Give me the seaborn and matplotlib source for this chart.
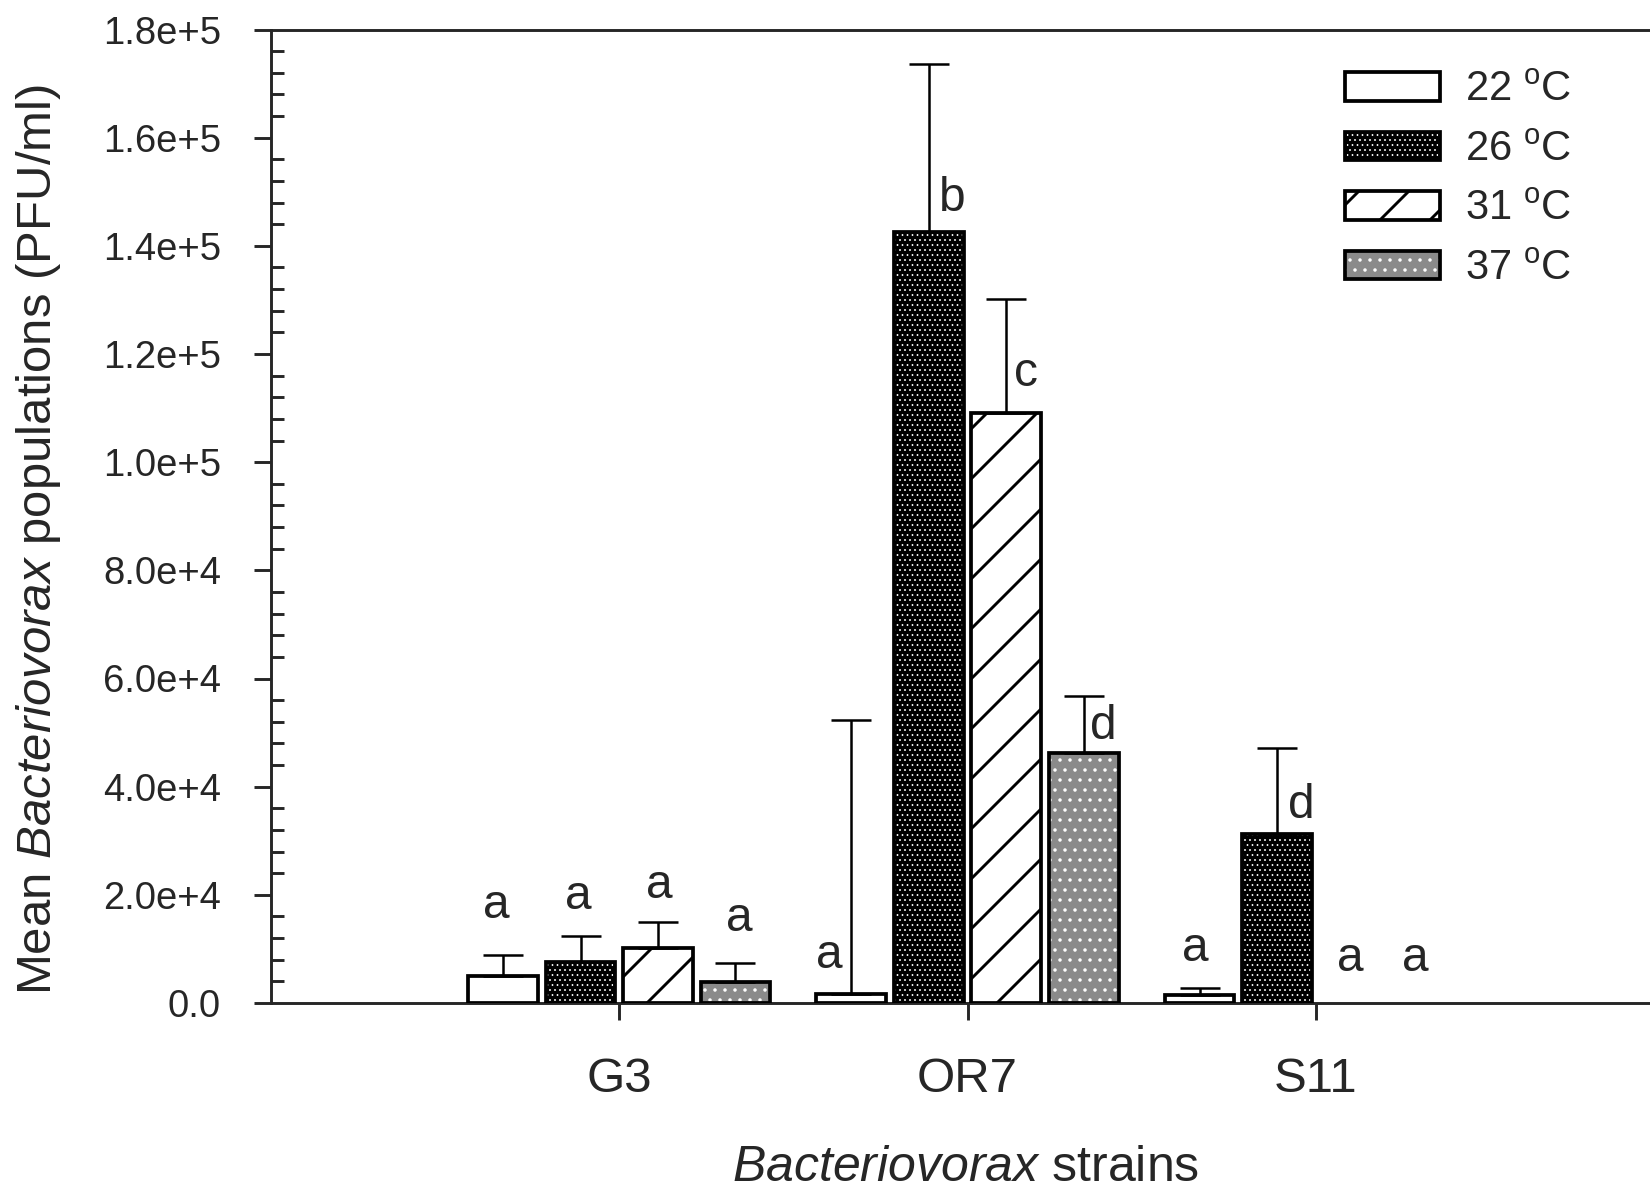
"""
Bacteriovorax strain populations at four temperatures (bar chart with hatches)
"""
import numpy as np
import pandas as pd
import matplotlib
matplotlib.use('Agg')
import matplotlib.pyplot as plt
import seaborn as sns
from matplotlib.patches import Rectangle, Patch
from matplotlib.legend_handler import HandlerTuple
from matplotlib.ticker import MultipleLocator, FixedLocator, FixedFormatter

# Categories
STRAINS = ['G3', 'OR7', 'S11']
TEMPS = ['22 $^{\\rm o}$C', '26 $^{\\rm o}$C', '31 $^{\\rm o}$C', '37 $^{\\rm o}$C']

# Mean PFU/ml per strain (G3, OR7, S11)
mean_22 = [5000, 1750, 1450]
mean_26 = [7600, 142600, 31300]
mean_31 = [10100, 109000, 0]
mean_37 = [3900, 46300, 0]

# Upper error (SD) per strain
err_22 = [3800, 50550, 1350]
err_26 = [4850, 31000, 15800]
err_31 = [4900, 21200, np.nan]
err_37 = [3500, 10500, np.nan]

# Significance letters, their baseline heights and x shift from bar centre
letters_22 = ['a', 'a', 'a']
letters_26 = ['a', 'b', 'd']
letters_31 = ['a', 'c', 'a']
letters_37 = ['a', 'd', 'a']
letter_y_22 = [15760, 6420, 7780]
letter_y_26 = [17320, 146500, 34250]
letter_y_31 = [19460, 114000, 5840]
letter_y_37 = [13230, 48840, 5840]
letter_dx_22 = [-0.02, -0.064, -0.012]
letter_dx_26 = [-0.006, 0.066, 0.07]
letter_dx_31 = [0.003, 0.057, -0.012]
letter_dx_37 = [0.012, 0.057, -0.048]

# Y tick labels
YTICKS = [0, 20000, 40000, 60000, 80000, 100000, 120000, 140000, 160000, 180000]
YTICK_LABELS = ['0.0', '2.0e+4', '4.0e+4', '6.0e+4', '8.0e+4', '1.0e+5',
                '1.2e+5', '1.4e+5', '1.6e+5', '1.8e+5']

# Fill styles per temperature: face, hatch colour, hatch, hatch line width
FACES = ['white', 'black', 'white', '#8a8a8a']
HATCH_COLORS = ['black', 'white', 'black', 'white']
HATCHES = ['', '.' * 10, '//', '.....']
HATCH_LWS = [0.7, 0.2, 0.7, 0.35]

means = [mean_22, mean_26, mean_31, mean_37]
errs = [err_22, err_26, err_31, err_37]
letters = [letters_22, letters_26, letters_31, letters_37]
letter_ys = [letter_y_22, letter_y_26, letter_y_31, letter_y_37]
letter_dxs = [letter_dx_22, letter_dx_26, letter_dx_31, letter_dx_37]

rows = []
for t, m in zip(TEMPS, means):
    for s, v in zip(STRAINS, m):
        rows.append({'strain': s, 'temp': t, 'mean': v})
df = pd.DataFrame(rows)

sns.set_style('ticks')
plt.rcParams['font.family'] = ['Liberation Sans', 'DejaVu Sans']
plt.rcParams['mathtext.fontset'] = 'custom'
plt.rcParams['mathtext.rm'] = 'Liberation Sans'
plt.rcParams['mathtext.it'] = 'Liberation Sans:italic'
plt.rcParams['hatch.linewidth'] = 0.7

EDGE_LW = 0.9


def style_fill(p, i):
    p.set_facecolor(FACES[i])
    p.set_edgecolor(HATCH_COLORS[i])
    p.set_hatch(HATCHES[i])
    p.set_linewidth(0)
    if hasattr(p, 'set_hatch_linewidth'):
        p.set_hatch_linewidth(HATCH_LWS[i])


fig = plt.figure(figsize=(5.5, 1189 / 300), dpi=300)
ax = fig.add_axes([271 / 1650, 186 / 1189, 1393 / 1650, 973.5 / 1189])

sns.barplot(data=df, x='strain', y='mean', hue='temp', order=STRAINS,
            hue_order=TEMPS, palette=FACES, width=0.89, gap=0.1,
            errorbar=None, legend=False, ax=ax)

# restyle bars: hatch colour comes from edgecolor, so outline is drawn separately
bar_conts = list(ax.containers)
for i, cont in enumerate(bar_conts):
    xs, tops = [], []
    for j, p in enumerate(cont.patches):
        h = p.get_height()
        xc = p.get_x() + p.get_width() / 2
        xs.append(xc)
        tops.append(h)
        if h <= 0:
            p.set_visible(False)
        else:
            style_fill(p, i)
            ax.add_patch(Rectangle(p.get_xy(), p.get_width(), h, fill=False,
                                   edgecolor='black', linewidth=EDGE_LW, zorder=3))
        ax.text(xc + letter_dxs[i][j], letter_ys[i][j], letters[i][j],
                ha='center', va='baseline', fontsize=11.5, zorder=5)
    e = np.array(errs[i], dtype=float)
    ok = ~np.isnan(e)
    ax.errorbar(np.array(xs)[ok], np.array(tops)[ok],
                yerr=[np.zeros(ok.sum()), e[ok]], fmt='none', ecolor='black',
                elinewidth=0.6, capsize=4.8, capthick=0.6, zorder=2)

ax.set_xlim(-1, 3)
ax.set_ylim(0, 180000)
ax.yaxis.set_major_locator(FixedLocator(YTICKS))
ax.yaxis.set_major_formatter(FixedFormatter(YTICK_LABELS))
ax.yaxis.set_minor_locator(MultipleLocator(4000))
ax.tick_params(axis='y', which='major', direction='out', length=4, width=0.7,
               labelsize=9.2, pad=8)
ax.tick_params(axis='y', which='minor', direction='in', length=3, width=0.7)
ax.tick_params(axis='x', which='major', direction='out', length=4, width=0.7,
               labelsize=11.8, pad=9)
ax.tick_params(axis='x', which='minor', bottom=False)
for sp in ax.spines.values():
    sp.set_linewidth(0.7)
    sp.set_visible(True)
ax.set_xlabel('')
ax.set_ylabel('')

fig.text(39 / 1650, 1 - 540 / 1189, 'Mean $\\it{Bacteriovorax}$ populations (PFU/ml)',
         rotation=90, ha='center', va='center', fontsize=11.8)
fig.text(966 / 1650, 8 / 1189, '$\\it{Bacteriovorax}$ strains',
         ha='center', va='baseline', fontsize=12)

handles = []
for i in range(len(TEMPS)):
    fill = Patch()
    style_fill(fill, i)
    outline = Patch(fill=False, edgecolor='black', linewidth=EDGE_LW)
    handles.append((fill, outline))
leg = ax.legend(handles, TEMPS, handler_map={tuple: HandlerTuple(ndivide=1)},
                loc='upper left', bbox_to_anchor=(1345 / 1650, 1 - 70 / 1189),
                bbox_transform=fig.transFigure, frameon=False, fontsize=10,
                handlelength=2.28, handleheight=0.67, handletextpad=0.6,
                labelspacing=0.47, borderpad=0, borderaxespad=0)
# legend copies of the fills lose their hatch width, so set it again
for k, h in enumerate(leg.legend_handles):
    if hasattr(h, 'set_hatch_linewidth'):
        h.set_hatch_linewidth(HATCH_LWS[k])

fig.savefig('out.png', dpi=300)
